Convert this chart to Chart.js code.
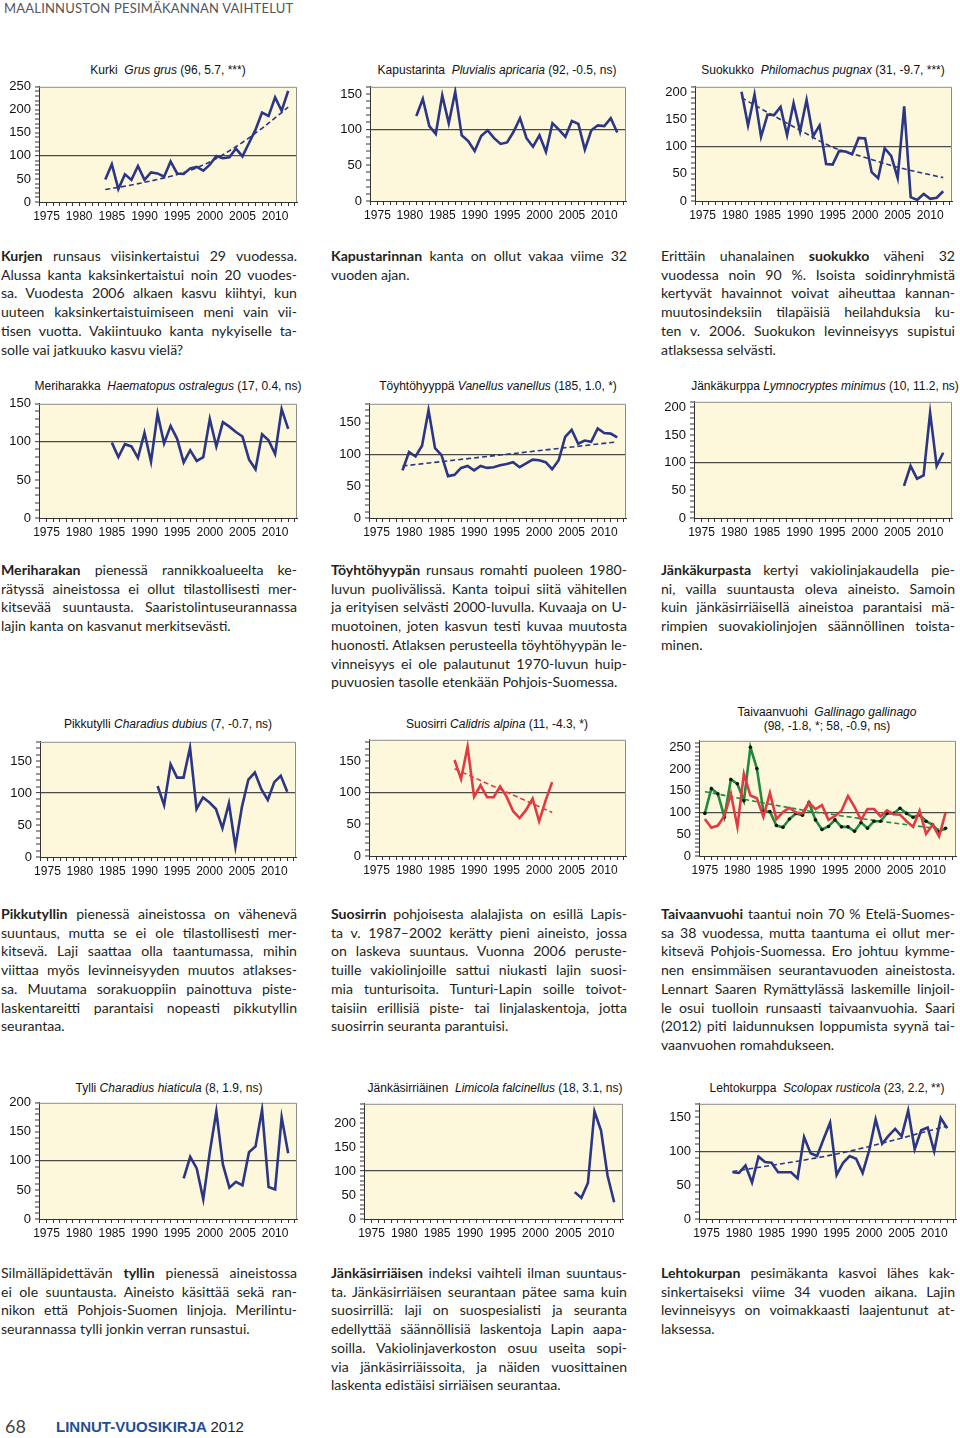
<!DOCTYPE html>
<html>
<head>
<meta charset="utf-8">
<script src="https://cdn.jsdelivr.net/npm/chart.js@4.4.1/dist/chart.umd.min.js"></script>
<style>
  body { margin: 0; width: 960px; height: 1438px; position: relative; overflow: hidden; background: #fff; }
  .box { position: absolute; }
  .ttl { position: absolute; font: 12px "Liberation Sans", Arial, sans-serif; color: #111; white-space: nowrap; transform: translate(-50%, -50%); text-align: center; line-height: 14px; }
  .txt { position: absolute; width: 296px; font: 14.1px/18.7px Lato, "Open Sans", sans-serif; color: #231f20; }
  .txt div { text-align: justify; text-align-last: justify; white-space: nowrap; }
  .txt div.e { text-align-last: left; }
  .hdr { position: absolute; left: 4px; top: 0px; font: 13px Lato, sans-serif; color: #555; letter-spacing: 0.2px; }
  .ftr { position: absolute; left: 5px; top: 1415px; font: 18px Lato, sans-serif; color: #444; }
  .ftr b { position: absolute; left: 51px; top: 3px; font: bold 15px "Liberation Sans", Arial, sans-serif; color: #1f4f94; white-space: nowrap; }
  .ftr b span { color: #222; font-weight: normal; }
</style>
</head>
<body>
<div class="hdr">MAALINNUSTON PESIMÄKANNAN VAIHTELUT</div>

<script>
// indeksit (100 = jakson keskiarvo), luettu kuvaajista
const kurkiStart = 1984;
const kurkiValues = [49, 82, 28, 60, 48, 78, 48, 64, 62, 55, 88, 62, 61, 73, 76, 68, 81, 100, 95, 97, 116, 99, 128, 157, 194, 187, 227, 198, 241];
const kurkiTrendYears = [1984, 1988, 1992, 1996, 2000, 2004, 2008, 2012];
const kurkiTrend = [27, 37, 49, 64, 87, 120, 160, 206];

const kapustaStart = 1981;
const kapustaValues = [119, 143, 105, 94, 148, 109, 153, 92, 84, 70, 91, 99, 88, 80, 82, 97, 116, 88, 76, 92, 69, 109, 100, 90, 112, 108, 72, 99, 106, 105, 116, 96];

const suokukkoStart = 1981;
const suokukkoValues = [201, 139, 196, 118, 159, 158, 173, 121, 180, 128, 186, 119, 139, 68, 67, 92, 91, 86, 116, 115, 53, 42, 97, 83, 42, 174, 7, 2, 13, 4, 6, 18];
const suokukkoTrendYears = [1981, 1985, 1990, 1995, 2000, 2005, 2012];
const suokukkoTrend = [190, 163, 130, 99, 80, 62, 43];

const meriStart = 1985;
const meriValues = [99, 80, 97, 94, 79, 112, 74, 137, 98, 121, 104, 73, 89, 75, 80, 130, 94, 126, 120, 113, 107, 77, 64, 110, 102, 84, 143, 117];

const toyhtoStart = 1979;
const toyhtoValues = [75, 104, 97, 114, 170, 110, 99, 66, 68, 79, 82, 75, 82, 79, 80, 83, 85, 88, 80, 86, 92, 91, 88, 77, 91, 128, 139, 117, 122, 120, 141, 134, 133, 127];
const toyhtoTrendYears = [1979, 2012];
const toyhtoTrend = [82, 120];

const jankakurppaStart = 2006;
const jankakurppaValues = [58, 94, 71, 77, 190, 94, 118];

const pikkutylliStart = 1992;
const pikkutylliValues = [111, 81, 145, 124, 124, 171, 75, 93, 85, 75, 45, 84, 16, 78, 121, 132, 106, 89, 117, 127, 102];

const suosirriStart = 1987;
const suosirriValues = [152, 122, 173, 94, 112, 93, 93, 110, 94, 71, 60, 73, 91, 55, 88, 117];
const suosirriTrendYears = [1987, 2002];
const suosirriTrend = [138, 69];

const taivasStart = 1975;
const taivasSouth = [98, 155, 143, 90, 176, 166, 127, 250, 201, 102, 102, 70, 66, 85, 98, 94, 123, 83, 61, 68, 83, 67, 67, 57, 77, 64, 80, 80, 98, 98, 110, 98, 89, 95, 80, 72, 56, 64];
const taivasNorth = [85, 65, 70, 92, 143, 67, 189, 139, 133, 90, 145, 85, 101, 111, 100, 98, 123, 108, 117, 83, 92, 104, 138, 113, 83, 108, 108, 91, 105, 96, 95, 80, 67, 104, 51, 72, 45, 100];
const taivasTrendYears = [1975, 1990, 2012];
const taivasTrend = [148, 106, 60];

const tylliStart = 1996;
const tylliValues = [70, 107, 87, 34, 115, 185, 94, 54, 64, 58, 115, 125, 188, 55, 51, 175, 113];

const jankasirriStart = 2006;
const jankasirriValues = [56, 44, 75, 224, 184, 90, 35];

const lehtoStart = 1979;
const lehtoValues = [69, 68, 79, 54, 92, 84, 83, 69, 69, 69, 60, 121, 97, 93, 118, 142, 65, 83, 93, 89, 68, 101, 147, 111, 123, 133, 122, 160, 103, 131, 135, 100, 149, 134];
const lehtoTrendYears = [1979, 1995, 2012];
const lehtoTrend = [70, 96, 137];

const NAVY = '#2b3686';
const RED = '#e23a40';
const GREEN = '#1f8b3b';

function series(start, values) {
    return values.map((v, i) => ({ x: start + i, y: v }));
}
function pairs(years, values) {
    return years.map((y, i) => ({ x: y, y: values[i] }));
}
function mainLine(data, color) {
    return { data: data, borderColor: color, borderWidth: 2.6, pointRadius: 0, tension: 0 };
}
function trendLine(data, color) {
    return { data: data, borderColor: color, borderWidth: 1.6, borderDash: [5, 3], pointRadius: 0, cubicInterpolationMode: 'monotone', tension: 0.4 };
}

// sijainnit: piirtoalueen reunat sivulla
var panels = [
    { title: 'Kurki&nbsp;&nbsp;<i>Grus grus</i> (96, 5.7, ***)', tx: 168, ty: 70, L: 39, T: 85, R: 297, B: 202, yMax: 250,
      sets: [mainLine(series(kurkiStart, kurkiValues), NAVY), trendLine(pairs(kurkiTrendYears, kurkiTrend), NAVY)] },
    { title: 'Kapustarinta&nbsp;&nbsp;<i>Pluvialis apricaria</i> (92, -0.5, ns)', tx: 497, ty: 70, L: 370, T: 85, R: 626, B: 201, yMax: 160,
      sets: [mainLine(series(kapustaStart, kapustaValues), NAVY)] },
    { title: 'Suokukko&nbsp;&nbsp;<i>Philomachus pugnax</i> (31, -9.7, ***)', tx: 823, ty: 70, L: 695, T: 85, R: 952, B: 201, yMax: 210,
      sets: [mainLine(series(suokukkoStart, suokukkoValues), NAVY), trendLine(pairs(suokukkoTrendYears, suokukkoTrend), NAVY)] },
    { title: 'Meriharakka&nbsp;&nbsp;<i>Haematopus ostralegus</i> (17, 0.4, ns)', tx: 168, ty: 386, L: 39, T: 402, R: 297, B: 518, yMax: 150,
      sets: [mainLine(series(meriStart, meriValues), NAVY)] },
    { title: 'Töyhtöhyyppä <i>Vanellus vanellus</i> (185, 1.0, *)', tx: 498, ty: 386, L: 369, T: 402, R: 626, B: 518, yMax: 180,
      sets: [mainLine(series(toyhtoStart, toyhtoValues), NAVY), trendLine(pairs(toyhtoTrendYears, toyhtoTrend), NAVY)] },
    { title: 'Jänkäkurppa <i>Lymnocryptes minimus</i> (10, 11.2, ns)', tx: 825, ty: 386, L: 694, T: 400, R: 952, B: 518, yMax: 210,
      sets: [mainLine(series(jankakurppaStart, jankakurppaValues), NAVY)] },
    { title: 'Pikkutylli <i>Charadius dubius</i> (7, -0.7, ns)', tx: 168, ty: 724, L: 40, T: 740, R: 296, B: 857, yMax: 180,
      sets: [mainLine(series(pikkutylliStart, pikkutylliValues), NAVY)] },
    { title: 'Suosirri <i>Calidris alpina</i> (11, -4.3, *)', tx: 497, ty: 724, L: 369, T: 738, R: 626, B: 856, yMax: 184,
      sets: [mainLine(series(suosirriStart, suosirriValues), RED), trendLine(pairs(suosirriTrendYears, suosirriTrend), RED)] },
    { title: 'Taivaanvuohi&nbsp;&nbsp;<i>Gallinago gallinago</i><br>(98, -1.8, *; 58, -0.9, ns)', tx: 827, ty: 719, L: 699, T: 739, R: 956, B: 856, yMax: 265, xMin: 1974.1, xMax: 2013.6,
      sets: [
        mainLine(series(taivasStart, taivasNorth), RED),
        Object.assign(mainLine(series(taivasStart, taivasSouth), GREEN), { pointRadius: 1.8, pointBackgroundColor: '#111', pointBorderWidth: 0 }),
        trendLine(pairs(taivasTrendYears, taivasTrend), GREEN)
      ] },
    { title: 'Tylli <i>Charadius hiaticula</i> (8, 1.9, ns)', tx: 169, ty: 1088, L: 39, T: 1101, R: 297, B: 1219, yMax: 200,
      sets: [mainLine(series(tylliStart, tylliValues), NAVY)] },
    { title: 'Jänkäsirriäinen&nbsp;&nbsp;<i>Limicola falcinellus</i> (18, 3.1, ns)', tx: 495, ty: 1088, L: 364, T: 1102, R: 623, B: 1219, yMax: 240,
      sets: [mainLine(series(jankasirriStart, jankasirriValues), NAVY)] },
    { title: 'Lehtokurppa&nbsp;&nbsp;<i>Scolopax rusticola</i> (23, 2.2, **)', tx: 827, ty: 1088, L: 699, T: 1102, R: 956, B: 1219, yMax: 170,
      sets: [mainLine(series(lehtoStart, lehtoValues), NAVY), trendLine(pairs(lehtoTrendYears, lehtoTrend), NAVY)] }
];

const plotFrame = {
    id: 'plotFrame',
    beforeDraw(chart) {
        var a = chart.chartArea, ctx = chart.ctx;
        ctx.save();
        ctx.fillStyle = '#fdf8dc';
        ctx.fillRect(a.left, a.top, a.right - a.left, a.bottom - a.top);
        ctx.restore();
    },
    beforeDatasetsDraw(chart) {
        var a = chart.chartArea, ctx = chart.ctx;
        ctx.save();
        ctx.strokeStyle = '#8c8c8c';
        ctx.lineWidth = 1;
        ctx.beginPath();
        ctx.moveTo(a.left, a.top + 0.5);
        ctx.lineTo(a.right - 0.5, a.top + 0.5);
        ctx.lineTo(a.right - 0.5, a.bottom);
        ctx.stroke();
        ctx.restore();
    }
};

const PAD_L = 39, PAD_T = 10, PAD_R = 6, PAD_B = 24;

panels.forEach(function (p) {
    var t = document.createElement('div');
    t.className = 'ttl';
    t.style.left = p.tx + 'px';
    t.style.top = p.ty + 'px';
    t.innerHTML = p.title;
    document.body.appendChild(t);

    var w = (p.R - p.L) + PAD_L + PAD_R;
    var h = (p.B - p.T) + PAD_T + PAD_B;
    var box = document.createElement('div');
    box.className = 'box';
    box.style.left = (p.L - PAD_L) + 'px';
    box.style.top = (p.T - PAD_T) + 'px';
    var cv = document.createElement('canvas');
    cv.width = w; cv.height = h;
    cv.style.width = w + 'px'; cv.style.height = h + 'px';
    box.appendChild(cv);
    document.body.appendChild(box);

    new Chart(cv.getContext('2d'), {
        type: 'line',
        data: { datasets: p.sets },
        options: {
            responsive: false,
            animation: false,
            layout: { padding: { top: PAD_T, right: PAD_R, left: 0, bottom: 0 } },
            plugins: { legend: { display: false }, tooltip: { enabled: false } },
            scales: {
                x: {
                    type: 'linear',
                    min: p.xMin || 1973.85,
                    max: p.xMax || 2013.35,
                    afterFit: function (s) { s.height = PAD_B; },
                    afterBuildTicks: function (s) { s.ticks = s.ticks.filter(function (k) { return Number.isInteger(k.value); }); },
                    ticks: {
                        stepSize: 1, includeBounds: false, autoSkip: false, maxRotation: 0, padding: 3,
                        color: '#111', font: { family: '"Liberation Sans", Arial, sans-serif', size: 12 },
                        callback: function (v) { return v % 5 === 0 ? String(v) : ''; }
                    },
                    grid: { drawOnChartArea: false, drawTicks: true, tickLength: 4, tickColor: '#333', tickWidth: 1 },
                    border: { display: true, color: '#333', width: 1 }
                },
                y: {
                    min: 0,
                    max: p.yMax,
                    afterFit: function (s) { s.width = PAD_L; },
                    afterBuildTicks: function (s) { s.ticks = s.ticks.filter(function (k) { return k.value % 10 === 0; }); },
                    ticks: {
                        stepSize: 10, includeBounds: false, autoSkip: false, padding: 4,
                        color: '#111', font: { family: '"Liberation Sans", Arial, sans-serif', size: 13 },
                        callback: function (v) { return v % 50 === 0 ? String(v) : ''; }
                    },
                    grid: {
                        drawTicks: true, tickLength: 4, tickColor: '#333', tickWidth: 1,
                        color: function (c) { return c.tick && c.tick.value === 100 ? '#4a4a4a' : 'rgba(0,0,0,0)'; },
                        lineWidth: function (c) { return c.tick && c.tick.value === 100 ? 1.3 : 0; }
                    },
                    border: { display: true, color: '#333', width: 1 }
                }
            }
        },
        plugins: [plotFrame]
    });
});
</script>

<div class="txt" style="left:1px; top:247px;">
  <div><b>Kurjen</b> runsaus viisinkertaistui 29 vuodessa.</div>
  <div>Alussa kanta kaksinkertaistui noin 20 vuodes-</div>
  <div>sa. Vuodesta 2006 alkaen kasvu kiihtyi, kun</div>
  <div>uuteen kaksinkertaistuimiseen meni vain vii-</div>
  <div>tisen vuotta. Vakiintuuko kanta nykyiselle ta-</div>
  <div class="e">solle vai jatkuuko kasvu vielä?</div>
</div>
<div class="txt" style="left:331px; top:247px;">
  <div><b>Kapustarinnan</b> kanta on ollut vakaa viime 32</div>
  <div class="e">vuoden ajan.</div>
</div>
<div class="txt" style="left:661px; top:247px; width:294px;">
  <div>Erittäin uhanalainen <b>suokukko</b> väheni 32</div>
  <div>vuodessa noin 90 %. Isoista soidinryhmistä</div>
  <div>kertyvät havainnot voivat aiheuttaa kannan-</div>
  <div>muutosindeksiin tilapäisiä heilahduksia ku-</div>
  <div>ten v. 2006. Suokukon levinneisyys supistui</div>
  <div class="e">atlaksessa selvästi.</div>
</div>

<div class="txt" style="left:1px; top:561px;">
  <div><b>Meriharakan</b> pienessä rannikkoalueelta ke-</div>
  <div>rätyssä aineistossa ei ollut tilastollisesti mer-</div>
  <div>kitsevää suuntausta. Saaristolintuseurannassa</div>
  <div class="e">lajin kanta on kasvanut merkitsevästi.</div>
</div>
<div class="txt" style="left:331px; top:561px;">
  <div><b>Töyhtöhyypän</b> runsaus romahti puoleen 1980-</div>
  <div>luvun puolivälissä. Kanta toipui siitä vähitellen</div>
  <div>ja erityisen selvästi 2000-luvulla. Kuvaaja on U-</div>
  <div>muotoinen, joten kasvun testi kuvaa muutosta</div>
  <div>huonosti. Atlaksen perusteella töyhtöhyypän le-</div>
  <div>vinneisyys ei ole palautunut 1970-luvun huip-</div>
  <div class="e">puvuosien tasolle etenkään Pohjois-Suomessa.</div>
</div>
<div class="txt" style="left:661px; top:561px; width:294px;">
  <div><b>Jänkäkurpasta</b> kertyi vakiolinjakaudella pie-</div>
  <div>ni, vailla suuntausta oleva aineisto. Samoin</div>
  <div>kuin jänkäsirriäisellä aineistoa parantaisi mä-</div>
  <div>rimpien suovakiolinjojen säännöllinen toista-</div>
  <div class="e">minen.</div>
</div>

<div class="txt" style="left:1px; top:905px;">
  <div><b>Pikkutyllin</b> pienessä aineistossa on vähenevä</div>
  <div>suuntaus, mutta se ei ole tilastollisesti mer-</div>
  <div>kitsevä. Laji saattaa olla taantumassa, mihin</div>
  <div>viittaa myös levinneisyyden muutos atlakses-</div>
  <div>sa. Muutama sorakuoppiin painottuva piste-</div>
  <div>laskentareitti parantaisi nopeasti pikkutyllin</div>
  <div class="e">seurantaa.</div>
</div>
<div class="txt" style="left:331px; top:905px;">
  <div><b>Suosirrin</b> pohjoisesta alalajista on esillä Lapis-</div>
  <div>ta v. 1987–2002 kerätty pieni aineisto, jossa</div>
  <div>on laskeva suuntaus. Vuonna 2006 peruste-</div>
  <div>tuille vakiolinjoille sattui niukasti lajin suosi-</div>
  <div>mia tunturisoita. Tunturi-Lapin soille toivot-</div>
  <div>taisiin erillisiä piste- tai linjalaskentoja, jotta</div>
  <div class="e">suosirrin seuranta parantuisi.</div>
</div>
<div class="txt" style="left:661px; top:905px; width:294px;">
  <div><b>Taivaanvuohi</b> taantui noin 70 % Etelä-Suomes-</div>
  <div>sa 38 vuodessa, mutta taantuma ei ollut mer-</div>
  <div>kitsevä Pohjois-Suomessa. Ero johtuu kymme-</div>
  <div>nen ensimmäisen seurantavuoden aineistosta.</div>
  <div>Lennart Saaren Rymättylässä laskemille linjoil-</div>
  <div>le osui tuolloin runsaasti taivaanvuohia. Saari</div>
  <div>(2012) piti laidunnuksen loppumista syynä tai-</div>
  <div class="e">vaanvuohen romahdukseen.</div>
</div>

<div class="txt" style="left:1px; top:1264px;">
  <div>Silmälläpidettävän <b>tyllin</b> pienessä aineistossa</div>
  <div>ei ole suuntausta. Aineisto käsittää sekä ran-</div>
  <div>nikon että Pohjois-Suomen linjoja. Merilintu-</div>
  <div class="e">seurannassa tylli jonkin verran runsastui.</div>
</div>
<div class="txt" style="left:331px; top:1264px;">
  <div><b>Jänkäsirriäisen</b> indeksi vaihteli ilman suuntaus-</div>
  <div>ta. Jänkäsirriäisen seurantaan pätee sama kuin</div>
  <div>suosirrillä: laji on suospesialisti ja seuranta</div>
  <div>edellyttää säännöllisiä laskentoja Lapin aapa-</div>
  <div>soilla. Vakiolinjaverkoston osuu useita sopi-</div>
  <div>via jänkäsirriäissoita, ja näiden vuosittainen</div>
  <div class="e">laskenta edistäisi sirriäisen seurantaa.</div>
</div>
<div class="txt" style="left:661px; top:1264px; width:294px;">
  <div><b>Lehtokurpan</b> pesimäkanta kasvoi lähes kak-</div>
  <div>sinkertaiseksi viime 34 vuoden aikana. Lajin</div>
  <div>levinneisyys on voimakkaasti laajentunut at-</div>
  <div class="e">laksessa.</div>
</div>

<div class="ftr">68<b>LINNUT-VUOSIKIRJA <span>2012</span></b></div>
</body>
</html>
